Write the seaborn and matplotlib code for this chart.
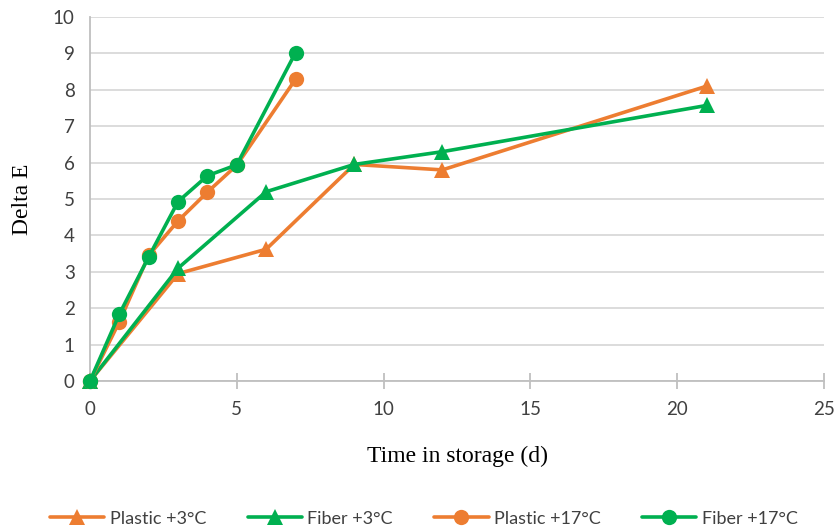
import matplotlib
matplotlib.use("Agg")
import matplotlib.pyplot as plt
import seaborn as sns
import pandas as pd

# Colour change (Delta E) over storage time for two packaging types at two temperatures
days_3c = [0, 3, 6, 9, 12, 21]
plastic_3c = [0.0, 2.95, 3.62, 5.95, 5.80, 8.10]
fiber_3c = [0.0, 3.10, 5.20, 5.95, 6.30, 7.57]

days_17c = [0, 1, 2, 3, 4, 5, 7]
plastic_17c = [0.0, 1.63, 3.45, 4.40, 5.19, 5.93, 8.29]
fiber_17c = [0.0, 1.84, 3.41, 4.93, 5.64, 5.94, 9.02]

series = [
    ("Plastic +3°C", days_3c, plastic_3c, "#ED7D31", "^"),
    ("Fiber +3°C", days_3c, fiber_3c, "#00B050", "^"),
    ("Plastic +17°C", days_17c, plastic_17c, "#ED7D31", "o"),
    ("Fiber +17°C", days_17c, fiber_17c, "#00B050", "o"),
]

sns.set_theme(style="white")
plt.rcParams["font.family"] = ["Lato", "DejaVu Sans"]

fig = plt.figure(figsize=(8.38, 5.30), dpi=100)
ax = fig.add_axes([0.1074, 0.2811, 0.8759, 0.6868])

for name, x, y, color, marker in series:
    df = pd.DataFrame({"day": x, "dE": y})
    sns.lineplot(data=df, x="day", y="dE", ax=ax, color=color, marker=marker,
                 markersize=11, markeredgewidth=0, linewidth=2.6, label=name,
                 sort=False, clip_on=False, zorder=3)

ax.set_xlim(0, 25)
ax.set_ylim(0, 10)
ax.set_xticks(range(0, 26, 5))
ax.set_yticks(range(0, 11))
ax.yaxis.grid(True, color="#D9D9D9", linewidth=1.3)
ax.xaxis.grid(False)
ax.set_axisbelow(True)

for side in ("top", "right"):
    ax.spines[side].set_visible(False)
for side in ("left", "bottom"):
    ax.spines[side].set_color("#BFBFBF")
    ax.spines[side].set_linewidth(1.3)

ax.tick_params(axis="x", direction="inout", length=11, width=1.3, color="#BFBFBF",
               labelsize=13.5, labelcolor="#404040", pad=9, bottom=True)
ax.tick_params(axis="y", length=0, labelsize=13.5, labelcolor="#404040", pad=11, left=False)

serif = ["Liberation Serif", "DejaVu Serif"]
ax.set_xlabel("Time in storage (d)", fontsize=17, family=serif, color="black", labelpad=20)
ax.set_ylabel("Delta E", fontsize=17, family=serif, color="black", labelpad=14)

ax.legend(loc="center", bbox_to_anchor=(0.455, -0.378), ncol=4, frameon=False,
          fontsize=13, handlelength=3.0, handletextpad=0.3, columnspacing=2.3,
          labelcolor="#404040")

fig.savefig("out.png", dpi=100)
